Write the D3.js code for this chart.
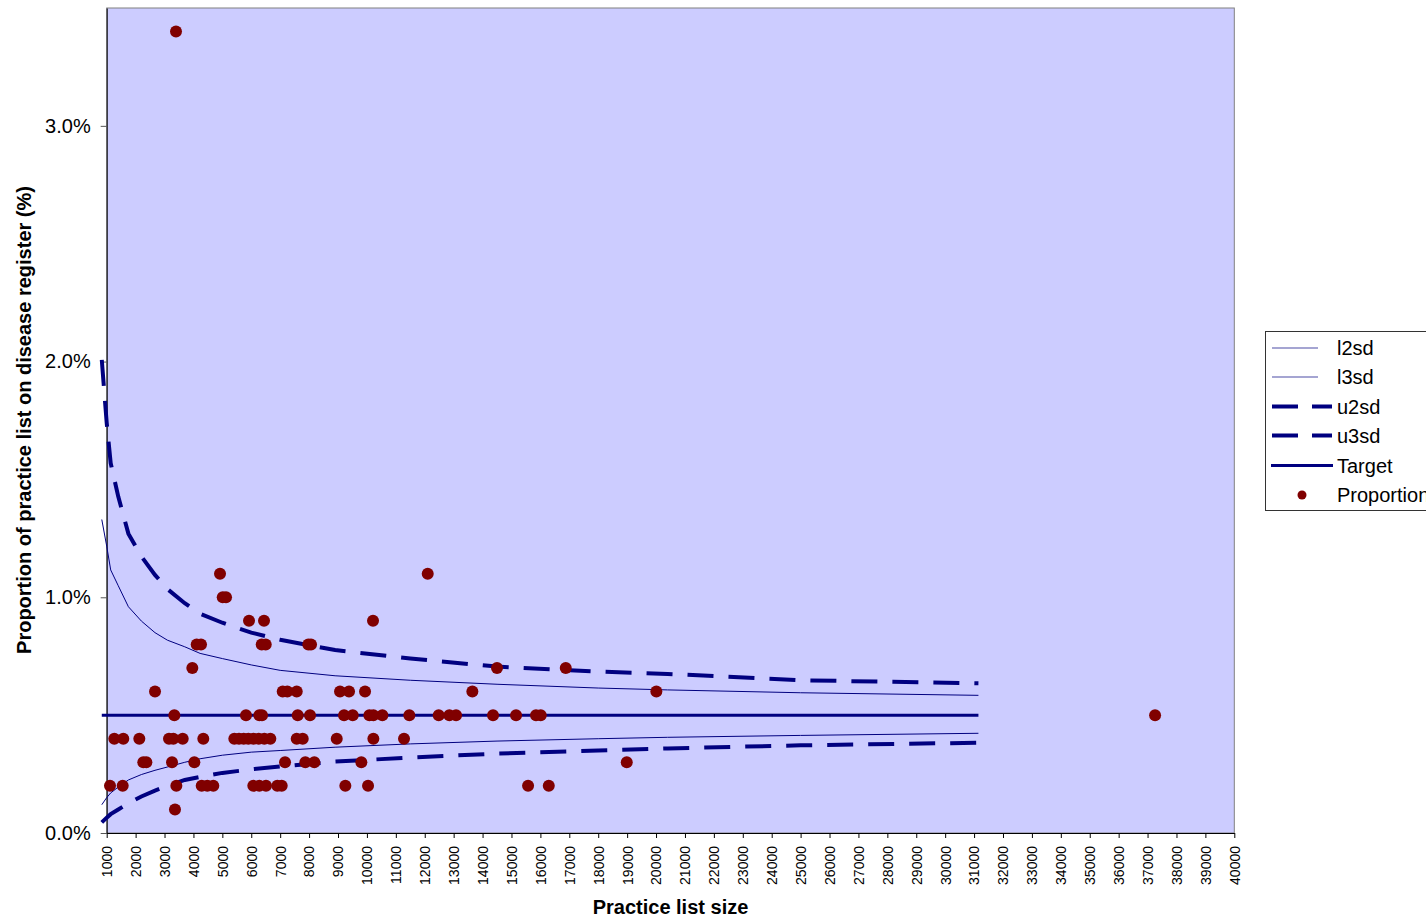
<!DOCTYPE html>
<html>
<head>
<meta charset="utf-8">
<script src="https://cdn.jsdelivr.net/npm/d3@7"></script>
<style>
  body { margin: 0; overflow: hidden; background: #fff; }
  text { font-family: "Liberation Sans", Arial, sans-serif; }
</style>
</head>
<body>
<div id="chart"></div>
<script>
// practices: list size and proportion on register (%)
const listSize = [
  3397,
  4919, 12103,
  5013, 5127,
  5922, 6441, 10211,
  4113, 4262, 6361, 6500, 7973, 8067,
  3962, 14500, 16877,
  2671, 7088, 7247, 7572, 9070, 9381, 9935, 13647, 20011,
  3339, 5818, 6279, 6372, 7607, 8032, 9209, 9509, 10085, 10223, 10534, 11467, 12483, 12851, 13083, 14362, 15158, 15849, 16012, 37260,
  1263, 1574, 2128, 3155, 3304, 3629, 4341, 5414, 5576, 5739, 5898, 6071, 6258, 6451, 6659, 7572, 7780, 8956, 10223, 11283,
  2266, 2372, 3259, 4031, 7168, 7870, 8181, 9807, 18987,
  1114, 1553, 3409, 4286, 4480, 4687, 6071, 6279, 6510, 6901, 7053, 9254, 10039, 15574, 16290,
  3362
];
const proportion = [
  3.4,
  1.1, 1.1,
  1.0, 1.0,
  0.9, 0.9, 0.9,
  0.8, 0.8, 0.8, 0.8, 0.8, 0.8,
  0.7, 0.7, 0.7,
  0.6, 0.6, 0.6, 0.6, 0.6, 0.6, 0.6, 0.6, 0.6,
  0.5, 0.5, 0.5, 0.5, 0.5, 0.5, 0.5, 0.5, 0.5, 0.5, 0.5, 0.5, 0.5, 0.5, 0.5, 0.5, 0.5, 0.5, 0.5, 0.5,
  0.4, 0.4, 0.4, 0.4, 0.4, 0.4, 0.4, 0.4, 0.4, 0.4, 0.4, 0.4, 0.4, 0.4, 0.4, 0.4, 0.4, 0.4, 0.4, 0.4,
  0.3, 0.3, 0.3, 0.3, 0.3, 0.3, 0.3, 0.3, 0.3,
  0.2, 0.2, 0.2, 0.2, 0.2, 0.2, 0.2, 0.2, 0.2, 0.2, 0.2, 0.2, 0.2, 0.2, 0.2,
  0.1
];

// control limit curves
const curveSize = [830, 1000, 1138, 1400, 1750, 2200, 2670, 3100, 3700, 4230, 5000, 6000, 7000, 8900, 11500, 14500, 18000, 20400, 25000, 31150];
const l2sd = [0.12, 0.15, 0.17, 0.195, 0.225, 0.248, 0.266, 0.28, 0.30, 0.315, 0.33, 0.343, 0.35, 0.364, 0.378, 0.39, 0.40, 0.406, 0.414, 0.423];
const l3sd = [1.33, 1.217, 1.116, 1.049, 0.96, 0.899, 0.85, 0.818, 0.79, 0.762, 0.74, 0.713, 0.69, 0.667, 0.648, 0.631, 0.615, 0.607, 0.595, 0.584];
const u2sd = [0.045, 0.065, 0.08, 0.10, 0.126, 0.155, 0.18, 0.20, 0.225, 0.238, 0.255, 0.27, 0.282, 0.303, 0.32, 0.337, 0.35, 0.359, 0.372, 0.383];
const u3sd = [2.007, 1.74, 1.569, 1.427, 1.27, 1.173, 1.095, 1.035, 0.975, 0.93, 0.892, 0.85, 0.82, 0.776, 0.74, 0.706, 0.685, 0.675, 0.648, 0.635];
const target = [0.5, 0.5, 0.5, 0.5, 0.5, 0.5, 0.5, 0.5, 0.5, 0.5, 0.5, 0.5, 0.5, 0.5, 0.5, 0.5, 0.5, 0.5, 0.5, 0.5];

const xTicks = d3.range(1000, 40001, 1000);
const yTicks = [0, 1, 2, 3];
const legendNames = ["l2sd", "l3sd", "u2sd", "u3sd", "Target", "Proportion"];

const margin = { top: 8, left: 106.7 };
const width = 1127.6, height = 825;
const navy = "#000080", dotColor = "#800000";

const svg = d3.select("#chart").append("svg")
  .attr("width", 1426)
  .attr("height", 920);

const g = svg.append("g").attr("transform", `translate(${margin.left},${margin.top})`);

const x = d3.scaleLinear().domain([1000, 40000]).range([0, width]);
const y = d3.scaleLinear().domain([0, 3.5]).range([height, 0]);

// plot area
g.append("rect").attr("width", width).attr("height", height)
  .attr("fill", "#CCCCFF").attr("stroke", "#808080").attr("stroke-width", 1);

// axes
const yAxis = d3.axisLeft(y).tickValues(yTicks).tickSize(6).tickSizeOuter(0).tickPadding(10)
  .tickFormat(d => d.toFixed(1) + "%");
const yg = g.append("g").call(yAxis);
yg.select(".domain").attr("stroke", "#000");
yg.selectAll(".tick line").attr("stroke", "#555");
yg.selectAll("text").attr("font-size", 20).attr("fill", "#000")
  .style("font-family", "Liberation Sans, Arial, sans-serif");

const xAxis = d3.axisBottom(x).tickValues(xTicks).tickSize(5).tickSizeOuter(0).tickFormat(d3.format("d"));
const xg = g.append("g").attr("transform", `translate(0,${height})`).call(xAxis);
xg.select(".domain").attr("stroke", "#000");
xg.selectAll(".tick line").attr("stroke", "#000");
xg.selectAll("text")
  .attr("font-size", 14).attr("fill", "#000")
  .style("font-family", "Liberation Sans, Arial, sans-serif")
  .attr("text-anchor", "end")
  .attr("y", 0).attr("x", 0).attr("dy", "0.35em")
  .attr("transform", "translate(0,13) rotate(-90)");

// curves
const line = d3.line().x(d => x(d[0])).y(d => y(d[1]));
const curves = [
  { values: l2sd, width: 1, dash: null },
  { values: l3sd, width: 1, dash: null },
  { values: u2sd, width: 4, dash: "26,15" },
  { values: u3sd, width: 4, dash: "26,15" },
  { values: target, width: 3, dash: null }
];
curves.forEach(c => {
  g.append("path")
    .datum(curveSize.map((s, i) => [s, c.values[i]]))
    .attr("d", line)
    .attr("fill", "none")
    .attr("stroke", navy)
    .attr("stroke-width", c.width)
    .attr("stroke-dasharray", c.dash);
});

// practices
g.selectAll("circle.pt")
  .data(listSize.map((s, i) => [s, proportion[i]]))
  .join("circle")
  .attr("class", "pt")
  .attr("cx", d => x(d[0]))
  .attr("cy", d => y(d[1]))
  .attr("r", 6)
  .attr("fill", dotColor);

// axis titles
svg.append("text")
  .attr("x", margin.left + width / 2).attr("y", 914)
  .attr("text-anchor", "middle")
  .attr("font-size", 20).attr("font-weight", "bold")
  .text("Practice list size");

svg.append("text")
  .attr("transform", "translate(31,420) rotate(-90)")
  .attr("text-anchor", "middle")
  .attr("font-size", 20).attr("font-weight", "bold")
  .text("Proportion of practice list on disease register (%)");

// legend (runs off the right edge, as in the original)
const legend = svg.append("g").attr("transform", "translate(1265,331)");
legend.append("rect").attr("x", 0.5).attr("y", 0.5).attr("width", 200).attr("height", 179)
  .attr("fill", "#fff").attr("stroke", "#333");
const rowY = [17, 46, 75.5, 104.5, 134.5, 164];
legendNames.forEach((name, i) => {
  const ly = rowY[i];
  if (i < 2) {
    legend.append("line").attr("x1", 7).attr("x2", 53).attr("y1", ly).attr("y2", ly)
      .attr("stroke", navy).attr("stroke-width", 1).attr("opacity", 0.7);
  } else if (i < 4) {
    legend.append("line").attr("x1", 7).attr("x2", 67).attr("y1", ly).attr("y2", ly)
      .attr("stroke", navy).attr("stroke-width", 4).attr("stroke-dasharray", "26,14");
  } else if (i === 4) {
    legend.append("line").attr("x1", 6).attr("x2", 68).attr("y1", ly).attr("y2", ly)
      .attr("stroke", navy).attr("stroke-width", 3);
  } else {
    legend.append("circle").attr("cx", 37).attr("cy", ly).attr("r", 4.5).attr("fill", dotColor);
  }
  legend.append("text").attr("x", 72).attr("y", ly).attr("dy", "0.35em")
    .attr("font-size", 20).text(name);
});
</script>
</body>
</html>
